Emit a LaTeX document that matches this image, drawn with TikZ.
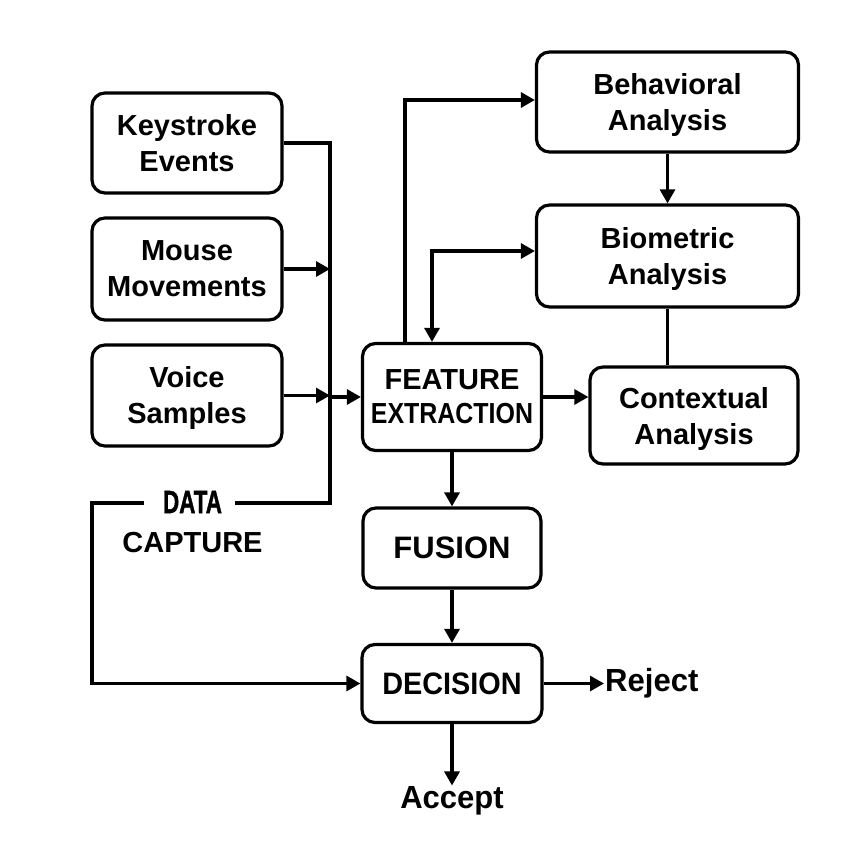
\documentclass[tikz,border=0pt]{standalone}
\usepackage{fontspec}
\setmainfont{Liberation Sans}
\newfontfamily\heavyf[BoldFeatures={FakeBold=1.6}]{Liberation Sans}
\usetikzlibrary{arrows.meta}
\newcommand{\cnd}[2]{\scalebox{#1}[1]{#2}}
\begin{document}
\begin{tikzpicture}[x=1pt,y=-1pt,
  box/.style={draw, line width=3.2pt, rounded corners=13pt, align=center, inner sep=0pt,
    font=\bfseries\fontsize{29}{36}\selectfont},
  low/.style={text depth=-6pt},
  ln/.style={line width=3.1pt},
  arr/.style={line width=3.1pt, -{Triangle[length=14pt,width=15pt]}},
  arrb/.style={line width=3.1pt, {Triangle[length=14pt,width=15pt]}-{Triangle[length=14pt,width=15pt]}},
  lbl/.style={inner sep=1pt, font=\bfseries\fontsize{29}{36}\selectfont},
  outlbl/.style={inner sep=1pt, font=\bfseries\fontsize{32}{36}\selectfont}]
\fill[white] (0,0) rectangle (859,858);
\useasboundingbox (0,0) rectangle (859,858);

% input boxes
\node[box, text depth=-2pt, minimum width=190pt, minimum height=100pt] (ks) at (187,143) {Keystroke\\Events};
\node[box, text depth=-2pt, minimum width=190pt, minimum height=102pt] (ms) at (187,269) {Mouse\\Movements};
\node[box, text depth=1pt, minimum width=190pt, minimum height=101pt] (vs) at (187,395.5) {Voice\\Samples};

% processing boxes
\node[box, minimum width=179pt, minimum height=107pt] (fe) at (452,397)
  {FEATURE\\[-2pt]\cnd{0.86}{EXTRACTION}};
\node[box, low, minimum width=262pt, minimum height=100pt] (beh) at (667.5,102) {Behavioral\\Analysis};
\node[box, low, minimum width=262pt, minimum height=102pt] (bio) at (667.5,256) {Biometric\\Analysis};
\node[box, low, minimum width=208pt, minimum height=97pt] (ctx) at (694,415.5) {Contextual\\Analysis};
\node[box, minimum width=178pt, minimum height=80pt] (fus) at (452,548)
  {\fontsize{31}{36}\selectfont FUSION};
\node[box, minimum width=180pt, minimum height=78pt] (dec) at (452,683.5)
  {\fontsize{31}{36}\selectfont\cnd{0.93}{DECISION}};

% outputs
\node[outlbl, anchor=west] (rej) at (604,683.5) {\cnd{0.97}{Reject}};
\node[outlbl] (acc) at (452,801) {\cnd{0.97}{Accept}};

% data capture label
\node[lbl, font=\heavyf\bfseries\fontsize{32}{36}\selectfont] (data) at (192.5,502) {\cnd{0.7}{DATA}};
\node[lbl] (capt) at (192.5,543) {CAPTURE};

% bus coordinates
\coordinate (bt) at (330,143);
\coordinate (bb) at (330,503);
\coordinate (dl) at (92,503);

% inputs to bus
\draw[ln] (ks.east) -- (bt) -- (bb) -- ([xshift=12pt]data.east |- bb);
\draw[arr] (ms.east) -- (ms.east -| bt);
\draw[arr] (vs.east) -- (vs.east -| bt);
\draw[arr] (fe.west -| bt) -- (fe.west);

% data capture to decision
\draw[arr] ([xshift=-18pt]data.west |- bb) -- (dl) |- (dec.west);

% feature extraction connections
\draw[arr] ([xshift=-47pt]fe.north) |- ([yshift=2pt]beh.west);
\draw[arrb] ([yshift=5pt]bio.west) -| ([xshift=-20pt]fe.north);
\draw[arr] (beh.south) -- (bio.north);
\draw[ln] (bio.south) -- (bio.south |- ctx.north);
\draw[arr] (fe.east) -- (fe.east -| ctx.west);
\draw[arr] (fe.south) -- (fus.north);
\draw[arr] (fus.south) -- (dec.north);
\draw[arr] (dec.east) -- (dec.east -| rej.west);
\draw[arr] (dec.south) -- (acc.north);
\end{tikzpicture}
\end{document}
